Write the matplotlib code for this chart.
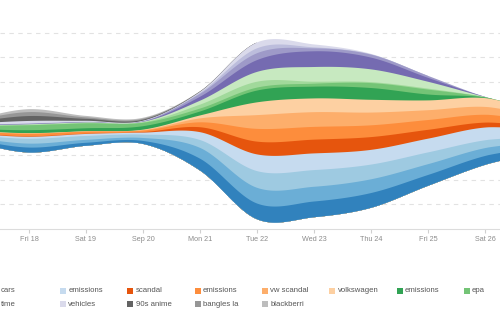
import numpy as np
import matplotlib
matplotlib.use("Agg")
import matplotlib.pyplot as plt
from matplotlib.patches import Rectangle

plt.rcParams['font.family'] = ['Liberation Sans', 'DejaVu Sans']

# ---------------- data ----------------
# days: Thu 17 (-1) ... Sun 27 (9); Fri 18 = 0
day_index = [-1, 0, 1, 2, 3, 4, 5, 6, 7, 8, 9]
tick_days = [0, 1, 2, 3, 4, 5, 6, 7, 8]
tick_labels = ["Fri 18", "Sat 19", "Sep 20", "Mon 21", "Tue 22",
               "Wed 23", "Thu 24", "Fri 25", "Sat 26"]

# series names (bottom of the stream first); '' = cut off in the reference
series_names = ["", "", "cars", "emissions", "scandal", "emissions",
                "vw scandal", "volkswagen", "emissions", "epa", "", "",
                "", "", "time", "vehicles", "90s anime", "bangles la",
                "blackberri"]

colors = ["#3182bd", "#6baed6", "#9ecae1", "#c6dbef",
          "#e6550d", "#fd8d3c", "#fdae6b", "#fdd0a2",
          "#31a354", "#74c476", "#a1d99b", "#c7e9c0",
          "#756bb1", "#9e9ac8", "#bcbddc", "#dadaeb",
          "#636363", "#969696", "#bdbdbd"]

s00 = [2.5, 5.0, 3.0, 3.0, 12, 16, 16, 15, 11, 9, 5]
s01 = [2.0, 4.0, 3.0, 3.0, 11, 16, 15, 14, 11, 8, 5]
s02 = [2.5, 5.0, 4.0, 3.5, 8, 17, 17, 15, 12, 8, 5]
s03 = [1.5, 2.0, 2.0, 2.0, 8, 17, 17, 15, 14, 13, 7]
s04 = [0.3, 0.5, 0.3, 0.5, 5, 13, 14, 13, 9, 5, 3]
s05 = [2.0, 2.5, 2.0, 1.5, 5, 13, 13, 12, 10, 8, 5]
s06 = [0.3, 0.4, 0.3, 0.5, 4, 14, 15, 13, 10, 8, 5]
s07 = [0.2, 0.3, 0.2, 0.5, 3, 13, 14, 13, 10, 9, 5]
s08 = [2.0, 3.0, 3.0, 3.5, 4, 12, 12, 12, 6, 0.5, 0]
s09 = [3.0, 5.0, 5.0, 3.5, 3, 3, 3, 5, 5, 0.3, 0]
s10 = [0.3, 0.5, 0.5, 0.5, 4, 6, 2, 1, 1, 0.1, 0]
s11 = [0.3, 0.5, 0.5, 0.5, 4, 10, 15, 13, 7, 0.2, 0]
s12 = [0.2, 0.3, 0.2, 0.2, 4, 12, 16, 12, 4, 0.1, 0]
s13 = [0.2, 0.3, 0.2, 0.2, 3, 7, 3, 3, 2, 0.1, 0]
s14 = [0.2, 0.3, 0.2, 0.2, 1, 5, 1, 0.3, 0, 0, 0]
s15 = [1.5, 2.5, 1.0, 0.5, 1, 6, 3, 0.5, 0, 0, 0]
s16 = [1.5, 5.0, 2.0, 1.0, 0.3, 0, 0, 0, 0, 0, 0]
s17 = [1.5, 4.0, 1.5, 1.0, 0.2, 0, 0, 0, 0, 0, 0]
s18 = [1.0, 3.0, 1.5, 1.0, 0.2, 0, 0, 0, 0, 0, 0]

series_values = [s00, s01, s02, s03, s04, s05, s06, s07, s08, s09,
                 s10, s11, s12, s13, s14, s15, s16, s17, s18]


# ------------- smooth curve through the points (Catmull-Rom / cardinal) -------------
def smooth_curve(x, y, xf):
    x = np.asarray(x, float)
    y = np.asarray(y, float)
    n = len(x)
    h = np.diff(x)
    t = np.zeros(n)
    t[1:-1] = (y[2:] - y[:-2]) / (x[2:] - x[:-2])
    t[0] = (y[1] - y[0]) / h[0]
    t[-1] = (y[-1] - y[-2]) / h[-1]
    idx = np.clip(np.searchsorted(x, xf) - 1, 0, n - 2)
    x0 = x[idx]
    hh = h[idx]
    u = (xf - x0) / hh
    h00 = 2 * u**3 - 3 * u**2 + 1
    h10 = u**3 - 2 * u**2 + u
    h01 = -2 * u**3 + 3 * u**2
    h11 = u**3 - u**2
    return h00 * y[idx] + h10 * hh * t[idx] + h01 * y[idx + 1] + h11 * hh * t[idx + 1]


# ---------------- figure ----------------
W, H = 500, 328
fig = plt.figure(figsize=(W / 100, H / 100), dpi=100)
ax = fig.add_axes([0, (H - 229) / H, 1, 216 / H])

xf = np.linspace(day_index[0], day_index[-1], 1201)
layers = [np.maximum(smooth_curve(day_index, v, xf), 0) for v in series_values]
total = np.sum(layers, axis=0)
base = -total / 2.0  # centred stream (silhouette)
uppers = base + np.cumsum(layers, axis=0)

# draw from the top layer downwards, each filled from the stream bottom
for i in range(len(layers) - 1, -1, -1):
    if np.max(layers[i]) <= 0:
        continue
    ax.fill_between(xf, base, uppers[i], where=layers[i] > 1e-6,
                    interpolate=True, facecolor=colors[i], edgecolor='none',
                    linewidth=0, zorder=2)

ax.set_xlim(-29 / 57, (W - 29) / 57)
ax.set_ylim(-100, 120)

ax.set_yticks([-75, -50, -25, 0, 25, 50, 75, 100])
ax.tick_params(axis='y', left=False, labelleft=False)
ax.yaxis.grid(True, color='#e2e2e2', linestyle=(0, (4, 4)), linewidth=0.8, zorder=0)
ax.set_axisbelow(True)

ax.set_xticks(tick_days)
ax.set_xticklabels(tick_labels)
ax.tick_params(axis='x', direction='out', length=3, width=0.8, color='#d0d0d0',
               labelcolor='#8c8c8c', labelsize=5.2, pad=2)

for sp in ['top', 'left', 'right']:
    ax.spines[sp].set_visible(False)
ax.spines['bottom'].set_color('#dcdcdc')
ax.spines['bottom'].set_linewidth(0.8)

# ---------------- legend (12 columns, cropped at the edges) ----------------
row_y = [291, 304]
ncols = 12
col_w = 67.3
for i, name in enumerate(series_names):
    if not name:
        continue
    r, c = divmod(i, ncols)
    xs = 60 + col_w * (c - 3)
    yc = row_y[r]
    fig.patches.append(Rectangle((xs / W, 1 - (yc + 3) / H), 6 / W, 6 / H,
                                 transform=fig.transFigure, facecolor=colors[i],
                                 edgecolor='none'))
    fig.text((xs + 8.3) / W, 1 - yc / H, name, fontsize=5.6, color='#555555',
             va='center', ha='left')

fig.savefig("out.png", dpi=100)
